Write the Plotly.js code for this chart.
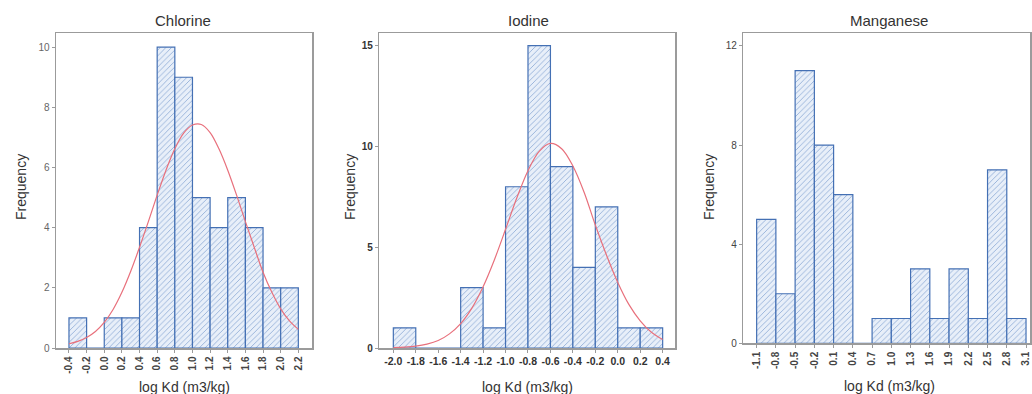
<!DOCTYPE html>
<html>
<head>
<meta charset="utf-8">
<script src="https://cdn.plot.ly/plotly-3.0.1.min.js"></script>
<style>html,body{margin:0;padding:0;background:#fff;}#chart{width:1032px;height:394px;}</style>
</head>
<body>
<div id="chart"></div>
<script>
// ---------- Data ----------
// Chlorine histogram (bin left edges, bin width 0.2)
const chlorineBinLeft = [-0.4, -0.2, 0.0, 0.2, 0.4, 0.6, 0.8, 1.0, 1.2, 1.4, 1.6, 1.8, 2.0];
const chlorineCounts  = [1, 0, 1, 1, 4, 10, 9, 5, 4, 5, 4, 2, 2];
const chlorineBinWidth = 0.2;
const chlorineTicks = [-0.4, -0.2, 0.0, 0.2, 0.4, 0.6, 0.8, 1.0, 1.2, 1.4, 1.6, 1.8, 2.0, 2.2];
const chlorineTickText = ["-0.4","-0.2","0.0","0.2","0.4","0.6","0.8","1.0","1.2","1.4","1.6","1.8","2.0","2.2"];
const chlorineYTicks = [0, 2, 4, 6, 8, 10];
// Chlorine fitted normal curve
const chlorineCurveX = [-0.4,-0.3,-0.2,-0.1,0.0,0.1,0.2,0.3,0.4,0.5,0.6,0.7,0.8,0.9,1.0,1.1,1.2,1.3,1.4,1.5,1.6,1.7,1.8,1.9,2.0,2.1,2.2];
const chlorineCurveY = [0.14,0.22,0.35,0.55,0.85,1.28,1.85,2.55,3.35,4.2,5.08,5.91,6.62,7.14,7.41,7.43,7.16,6.62,5.91,5.08,4.2,3.35,2.52,1.85,1.3,0.9,0.62];

// Iodine histogram (bin width 0.2)
const iodineBinLeft = [-2.0, -1.8, -1.6, -1.4, -1.2, -1.0, -0.8, -0.6, -0.4, -0.2, 0.0, 0.2];
const iodineCounts  = [1, 0, 0, 3, 1, 8, 15, 9, 4, 7, 1, 1];
const iodineBinWidth = 0.2;
const iodineTicks = [-2.0,-1.8,-1.6,-1.4,-1.2,-1.0,-0.8,-0.6,-0.4,-0.2,0.0,0.2,0.4];
const iodineTickText = ["-2.0","-1.8","-1.6","-1.4","-1.2","-1.0","-0.8","-0.6","-0.4","-0.2","0.0","0.2","0.4"];
const iodineYTicks = [0, 5, 10, 15];
const iodineCurveX = [-2.0,-1.9,-1.8,-1.7,-1.6,-1.5,-1.4,-1.3,-1.2,-1.1,-1.0,-0.9,-0.8,-0.7,-0.6,-0.5,-0.4,-0.3,-0.2,-0.1,0.0,0.1,0.2,0.3,0.4];
const iodineCurveY = [0.02,0.04,0.09,0.19,0.37,0.7,1.21,1.98,3.04,4.37,5.89,7.44,8.8,9.76,10.15,9.89,9.03,7.73,6.1,4.6,3.25,2.15,1.35,0.78,0.42];

// Manganese histogram (bin width 0.3)
const manganeseBinLeft = [-1.1,-0.8,-0.5,-0.2,0.1,0.4,0.7,1.0,1.3,1.6,1.9,2.2,2.5,2.8];
const manganeseCounts  = [5, 2, 11, 8, 6, 0, 1, 1, 3, 1, 3, 1, 7, 1];
const manganeseBinWidth = 0.3;
const manganeseTicks = [-1.1,-0.8,-0.5,-0.2,0.1,0.4,0.7,1.0,1.3,1.6,1.9,2.2,2.5,2.8,3.1];
const manganeseTickText = ["-1.1","-0.8","-0.5","-0.2","0.1","0.4","0.7","1.0","1.3","1.6","1.9","2.2","2.5","2.8","3.1"];
const manganeseYTicks = [0, 4, 8, 12];

const panelTitles = ["Chlorine", "Iodine", "Manganese"];
const xTitle = "log Kd (m3/kg)";
const yTitle = "Frequency";

// ---------- Styles ----------
const FONT = "Liberation Sans, Arial, Helvetica, sans-serif";
const W = 1032, H = 394;
const barMarker = {
  color: '#e4ecf7',
  line: {color: '#4470b4', width: 1.2},
  pattern: {shape: '/', fgcolor: '#8aa8d4', bgcolor: '#e8eff9', size: 4, solidity: 0.2, fillmode: 'replace'}
};
const curveLine = {color: '#e8707c', width: 1.2, shape: 'spline'};

function bar(xs, ys, w, xa, ya) {
  return {type: 'bar', x: xs, y: ys, width: w, offset: 0, xaxis: xa, yaxis: ya,
          marker: barMarker, hoverinfo: 'x+y'};
}
function curve(xs, ys, xa, ya) {
  return {type: 'scatter', mode: 'lines', x: xs, y: ys, xaxis: xa, yaxis: ya, line: curveLine, hoverinfo: 'skip'};
}

const data = [
  bar(chlorineBinLeft, chlorineCounts, chlorineBinWidth, 'x', 'y'),
  curve(chlorineCurveX, chlorineCurveY, 'x', 'y'),
  bar(iodineBinLeft, iodineCounts, iodineBinWidth, 'x2', 'y2'),
  curve(iodineCurveX, iodineCurveY, 'x2', 'y2'),
  bar(manganeseBinLeft, manganeseCounts, manganeseBinWidth, 'x3', 'y3')
];

const frame = {showline: true, mirror: true, linecolor: '#9b9b9b', linewidth: 1.5,
  showgrid: false, zeroline: false, ticks: 'outside', ticklen: 3, tickcolor: '#9b9b9b', tickwidth: 1, fixedrange: true};

function px(x) { return x / W; }
function py(y) { return 1 - y / H; }

const layout = {
  width: W, height: H,
  margin: {l: 0, r: 0, t: 0, b: 0},
  paper_bgcolor: '#ffffff', plot_bgcolor: '#ffffff',
  showlegend: false, bargap: 0,
  font: {family: FONT, color: '#333'},
  xaxis: Object.assign({}, frame, {domain: [px(56), px(312)], anchor: 'y', range: [-0.547, 2.355],
    tickmode: 'array', tickvals: chlorineTicks, ticktext: chlorineTickText, tickangle: -90,
    tickfont: {size: 10, color: '#444', family: FONT, weight: 'bold'}}),
  yaxis: Object.assign({}, frame, {domain: [py(348), py(33)], anchor: 'x', range: [0, 10.47],
    tickmode: 'array', tickvals: chlorineYTicks, tickfont: {size: 10, color: '#666', family: FONT}}),
  xaxis2: Object.assign({}, frame, {domain: [px(379.3), px(675)], anchor: 'y2', range: [-2.125, 0.51],
    tickmode: 'array', tickvals: iodineTicks, ticktext: iodineTickText, tickangle: 0,
    tickfont: {size: 10.5, color: '#333', family: FONT, weight: 'bold'}}),
  yaxis2: Object.assign({}, frame, {domain: [py(348), py(33)], anchor: 'x2', range: [0, 15.63],
    tickmode: 'array', tickvals: iodineYTicks, tickfont: {size: 10, color: '#333', family: FONT, weight: 'bold'}}),
  xaxis3: Object.assign({}, frame, {domain: [px(743.3), px(1030)], anchor: 'y3', range: [-1.308, 3.162],
    tickmode: 'array', tickvals: manganeseTicks, ticktext: manganeseTickText, tickangle: -90,
    tickfont: {size: 10, color: '#444', family: FONT, weight: 'bold'}}),
  yaxis3: Object.assign({}, frame, {domain: [py(343.3), py(33)], anchor: 'x3', range: [0, 12.52],
    tickmode: 'array', tickvals: manganeseYTicks, tickfont: {size: 10, color: '#444', family: FONT}}),
  annotations: []
};

const titleFont = {family: FONT, size: 15, color: '#333'};
const axFont = {family: FONT, size: 14, color: '#333'};
const titlePos = [[183, 21], [528, 21], [889, 21]];
const yTitlePos = [[21, 187], [350, 187], [709, 187]];
const xTitlePos = [[184, 387], [527, 387], [889, 386]];
for (let i = 0; i < 3; i++) {
  layout.annotations.push({text: panelTitles[i], xref: 'paper', yref: 'paper', x: px(titlePos[i][0]), y: py(titlePos[i][1]),
    xanchor: 'center', yanchor: 'middle', showarrow: false, font: titleFont});
  layout.annotations.push({text: yTitle, xref: 'paper', yref: 'paper', x: px(yTitlePos[i][0]), y: py(yTitlePos[i][1]),
    xanchor: 'center', yanchor: 'middle', showarrow: false, textangle: -90, font: axFont});
  layout.annotations.push({text: xTitle, xref: 'paper', yref: 'paper', x: px(xTitlePos[i][0]), y: py(xTitlePos[i][1]),
    xanchor: 'center', yanchor: 'middle', showarrow: false, font: axFont});
}

Plotly.newPlot('chart', data, layout, {displayModeBar: false, staticPlot: true});
</script>
</body>
</html>
